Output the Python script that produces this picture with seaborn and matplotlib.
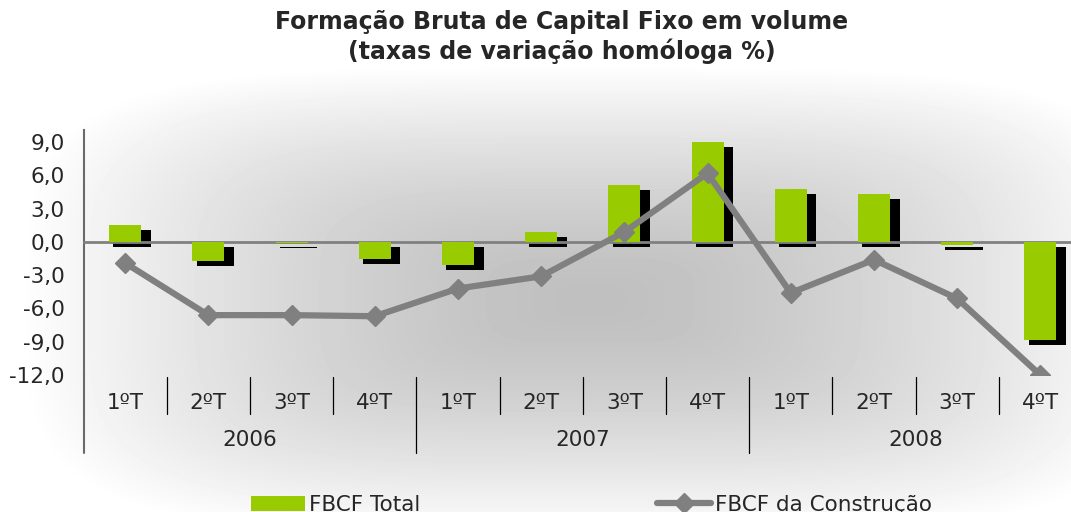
import numpy as np
import pandas as pd
import matplotlib
matplotlib.use('Agg')
import matplotlib.pyplot as plt
import seaborn as sns
from matplotlib.transforms import blended_transform_factory, ScaledTranslation
from matplotlib.patches import Patch
from matplotlib.lines import Line2D

# data
quarters = ['1ºT', '2ºT', '3ºT', '4ºT'] * 3
years = ['2006', '2007', '2008']
fbcf_total = [1.5, -1.7, -0.1, -1.5, -2.1, 0.9, 5.1, 9.0, 4.8, 4.3, -0.3, -8.8]
fbcf_construcao = [-1.9, -6.6, -6.6, -6.7, -4.2, -3.1, 0.9, 6.2, -4.6, -1.6, -5.1, -12.0]
y_ticks = [9, 6, 3, 0, -3, -6, -9, -12]

GREEN = '#99CC00'
GRAY = '#808080'

sns.set_style('white')
plt.rcParams['font.family'] = ['DejaVu Sans']

periods = [f'{y} {q}' for y in years for q in ['1ºT', '2ºT', '3ºT', '4ºT']]
df = pd.DataFrame({'periodo': periods, 'total': fbcf_total, 'construcao': fbcf_construcao})
xpos = np.arange(len(df))

fig = plt.figure(figsize=(10.71, 5.12), dpi=100)

# background gradient (light frame, gray centre)
bg = fig.add_axes([0, 0, 1, 1], zorder=0)
h, w = 512, 1071
yy, xx = np.mgrid[0:h, 0:w]
dx = np.abs(xx - 590) / 570
dy = np.abs(yy - 300) / 235
t = np.clip((dx ** 4 + dy ** 4) ** 0.25, 0, 1)
shade = 0.75 + 0.25 * t ** 1.5
bg.imshow(shade, cmap='gray', vmin=0, vmax=1, aspect='auto', interpolation='bilinear')
bg.axis('off')

ax = fig.add_axes([0.078, 0.2676, 0.9322, 0.4785], zorder=1)
ax.set_facecolor('none')

# shadow bars
shadow = ax.transData + ScaledTranslation(0.07, -0.05, fig.dpi_scale_trans)
ax.bar(xpos, df['total'], width=0.45, color='black', linewidth=0, transform=shadow, zorder=2)
sns.barplot(data=df, x='periodo', y='total', color=GREEN, saturation=1, width=0.385,
            linewidth=0, edgecolor='none', ax=ax, zorder=3)
ax.plot(xpos, df['construcao'], color=GRAY, lw=4.5, marker='D', markersize=10.5,
        zorder=4, solid_joinstyle='miter')

ax.set_xlim(-0.5, 11.5)
ax.set_ylim(-12, 10.1)
ax.set_xlabel('')
ax.set_ylabel('')

ax.set_yticks(y_ticks)
ax.set_yticklabels([f'{v:.1f}'.replace('.', ',') for v in y_ticks], fontsize=15.5)
ax.tick_params(axis='y', direction='inout', length=11, width=1, color='#404040', pad=8)

# category axis crosses at zero, boundary ticks there
ax.spines['bottom'].set_position(('data', 0))
ax.spines['bottom'].set_color(GRAY)
ax.spines['bottom'].set_linewidth(2)
ax.spines['left'].set_color('#6a6a6a')
ax.spines['left'].set_linewidth(1.5)
ax.spines['top'].set_visible(False)
ax.spines['right'].set_visible(False)
bounds = xpos[:-1] + 0.5
ax.set_xticks(bounds)
ax.set_xticklabels([''] * len(bounds))
ax.tick_params(axis='x', direction='inout', length=11, width=1, color='#303030')

# labels below plot area
tr = blended_transform_factory(ax.transData, ax.transAxes)
for i, q in enumerate(quarters):
    ax.text(i, -0.114, q, transform=tr, ha='center', va='center', fontsize=15.5)
for j, y in enumerate(years):
    ax.text(4 * j + 1.5, -0.265, y, transform=tr, ha='center', va='center', fontsize=15.5)
for b in list(bounds) + [11.5]:
    low = -0.318 if (b + 0.5) % 4 == 0 else -0.16
    ax.plot([b, b], [-0.008, low], transform=tr, color='black', lw=0.9, clip_on=False)
ax.plot([-0.5, -0.5], [0, -0.318], transform=tr, color='#6a6a6a', lw=1.5, clip_on=False)

fig.text(562 / 1071, 1 - 37 / 512, 'Formação Bruta de Capital Fixo em volume\n(taxas de variação homóloga %)',
         ha='center', va='center', fontsize=17, fontweight='bold', linespacing=1.25)

handles = [Patch(facecolor=GREEN, edgecolor='none'),
           Line2D([0], [0], color=GRAY, lw=4.5, marker='D', markersize=10.5)]
fig.legend(handles, ['FBCF Total', 'FBCF da Construção'], loc='center left',
           bbox_to_anchor=(251 / 1071, 1 - 505 / 512), ncol=2, frameon=False,
           fontsize=15.5, handlelength=2.5, handletextpad=0.2, columnspacing=11.0,
           borderpad=0, borderaxespad=0)

fig.savefig('out.png', dpi=100)
